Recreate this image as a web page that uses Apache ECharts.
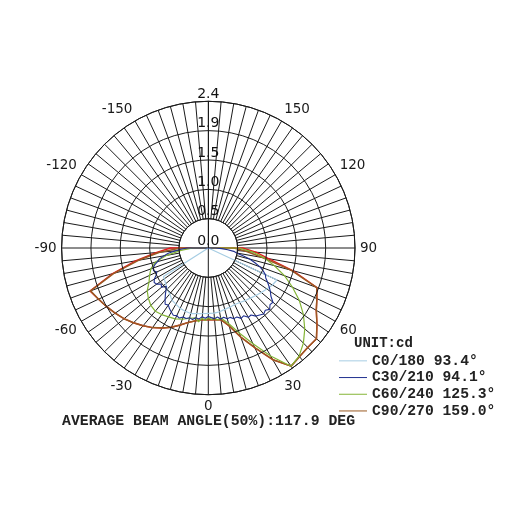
<!DOCTYPE html>
<html>
<head>
<meta charset="utf-8">
<script src="https://cdn.jsdelivr.net/npm/echarts@6/dist/echarts.min.js"></script>
<style>
html,body{margin:0;padding:0;background:#fff;}
#c{width:515px;height:515px;}
</style>
</head>
<body>
<div id="c"></div>
<script>
// ---------- DATA ----------
const SERIES_NAMES = ['C0/180 93.4°', 'C30/210 94.1°', 'C60/240 125.3°', 'C90/270 159.0°'];
const RING_LABELS = ['0.0', '0.5', '1.0', '1.5', '1.9', '2.4'];
const RADIUS_MAX = 2.4;
const RING_STEP = 0.48;
const ANGLE_LABEL_STEP = 30;
const UNIT_TEXT = 'UNIT:cd';
const FOOT_TEXT = 'AVERAGE BEAM ANGLE(50%):117.9 DEG';

// C0/180 (light blue)
const c0Angles = [-60, -57.5, -55, -50, -45, -40, -35, -30, -25, -20, -15, -10, -5, 0, 5, 10, 15, 20, 25, 30, 35, 40, 45, 50, 55, 60, 65, 67];
const c0Values = [0, 0.87, 0.88, 0.91, 0.95, 0.98, 1.04, 1.06, 1.09, 1.10, 1.11, 1.09, 1.08, 1.07, 1.07, 1.06, 1.04, 1.03, 1.02, 1.03, 1.05, 1.07, 1.10, 1.13, 1.17, 1.21, 1.24, 0];

// C30/210 (dark blue)
const c30Angles = [-92.5, -90, -87.5, -85, -82.5, -80, -77.5, -75, -72.5, -70, -67.5, -65, -62.5, -60, -57.5, -55, -52.5, -50, -47.5, -45, -42.5, -40, -37.5, -35, -32.5, -30, -27.5, -25, -22.5, -20, -17.5, -15, -12.5, -10, -7.5, -5, -2.5, 0, 2.5, 5, 7.5, 10, 12.5, 15, 17.5, 20, 22.5, 25, 27.5, 30, 32.5, 35, 37.5, 40, 42.5, 45, 47.5, 50, 52.5, 55, 57.5, 60, 62.5, 65, 67.5, 70, 72.5, 75, 77.5, 80, 82.5, 85, 87.5, 90, 92.5];
const c30Values = [0, 0.35, 0.45, 0.55, 0.66, 0.74, 0.82, 0.86, 0.92, 0.96, 0.97, 0.93, 0.96, 1.02, 1.05, 1.03, 0.97, 1.00, 0.93, 0.98, 1.04, 1.10, 1.16, 1.14, 1.18, 1.21, 1.24, 1.22, 1.24, 1.20, 1.21, 1.18, 1.20, 1.16, 1.17, 1.13, 1.15, 1.12, 1.14, 1.16, 1.14, 1.18, 1.16, 1.20, 1.19, 1.23, 1.22, 1.27, 1.25, 1.31, 1.30, 1.36, 1.38, 1.41, 1.38, 1.42, 1.37, 1.38, 1.29, 1.24, 1.18, 1.12, 1.06, 1.03, 0.97, 0.90, 0.80, 0.70, 0.58, 0.47, 0.42, 0.32, 0.22, 0.12, 0];

// C60/240 (green)
const c60Angles = [-93, -90, -85, -80, -75, -70, -65, -60, -55, -50, -45, -40, -35, -30, -25, -20, -15, -10, -7.5, -5, -2.5, 0, 2.5, 5, 7.5, 10, 15, 20, 25, 30, 35, 40, 45, 50, 55, 60, 65, 70, 75, 80, 85, 90, 94];
const c60Values = [0, 0.25, 0.45, 0.69, 0.90, 1.00, 1.06, 1.12, 1.22, 1.28, 1.33, 1.35, 1.33, 1.30, 1.28, 1.24, 1.19, 1.16, 1.22, 1.15, 1.19, 1.14, 1.17, 1.15, 1.19, 1.16, 1.28, 1.48, 1.73, 2.04, 2.36, 2.31, 2.20, 2.06, 1.90, 1.72, 1.52, 1.33, 1.12, 0.93, 0.72, 0.50, 0];

// C90/270 (brown)
const c90Angles = [-92, -90, -85, -80, -75, -70, -65, -60, -55, -50, -45, -40, -35, -30, -25, -20, -15, -10, -5, 0, 5, 10, 15, 20, 25, 30, 35, 40, 45, 50, 55, 60, 65, 70, 75, 80, 85, 90, 92];
const c90Values = [0, 0.45, 0.80, 1.16, 1.60, 2.05, 1.98, 1.92, 1.86, 1.80, 1.73, 1.66, 1.59, 1.51, 1.43, 1.34, 1.26, 1.21, 1.18, 1.17, 1.18, 1.19, 1.32, 1.55, 1.80, 2.11, 2.36, 2.32, 2.30, 2.31, 2.17, 2.04, 1.96, 1.89, 1.40, 0.90, 0.62, 0.42, 0];

// extra red curve (upper envelope)
const redAngles = [-96, -90, -85, -80, -75, -70, -65, -60, -55, -50, -45, -40, -35, -30, -25, -20, -15, -10, -5, 0, 5, 10, 15, 20, 25, 30, 35, 40, 45, 50, 55, 60, 65, 70, 75, 80, 85, 90, 96];
const redValues = [0, 0.62, 0.86, 1.20, 1.62, 2.06, 1.98, 1.92, 1.86, 1.80, 1.73, 1.66, 1.59, 1.51, 1.43, 1.34, 1.26, 1.21, 1.18, 1.17, 1.18, 1.19, 1.32, 1.55, 1.80, 2.11, 2.36, 2.32, 2.30, 2.31, 2.17, 2.04, 1.96, 1.89, 1.43, 1.00, 0.78, 0.56, 0];

// ---------- CHART ----------
const pairs = (ang, val) => ang.map((a, i) => [val[i], a]);
const MONO = 'Liberation Mono';
const SANS = 'DejaVu Sans';
const GRID = '#1a1a1a';

const chart = echarts.init(document.getElementById('c'), null, {renderer: 'canvas'});

function lineSeries(name, ang, val, color, width, z) {
  return {
    name: name, type: 'line', coordinateSystem: 'polar',
    data: pairs(ang, val), showSymbol: false, symbol: 'none', smooth: false,
    lineStyle: {color: color, width: width}, itemStyle: {color: color},
    z: z, silent: true, animation: false
  };
}

chart.setOption({
  animation: false,
  backgroundColor: '#fff',
  polar: {center: [208.3, 248], radius: 146.7},
  angleAxis: {
    type: 'value', min: -180, max: 180, interval: 5,
    startAngle: 90, clockwise: false,
    axisLine: {show: true, lineStyle: {color: GRID, width: 1}},
    axisTick: {show: false},
    splitLine: {show: true, lineStyle: {color: GRID, width: 1}},
    axisLabel: {
      margin: 5, color: '#1a1a1a', fontFamily: SANS, fontSize: 13.5,
      formatter: v => (Math.abs(v) < 180 && Math.round(v) % ANGLE_LABEL_STEP === 0) ? String(Math.round(v)) : ''
    }
  },
  radiusAxis: {
    type: 'value', min: 0, max: RADIUS_MAX, interval: RING_STEP, z: 5,
    axisLine: {show: true, lineStyle: {color: GRID, width: 1}},
    axisTick: {show: false},
    splitLine: {show: true, lineStyle: {color: GRID, width: 1}},
    axisLabel: {
      margin: 0, align: 'center', verticalAlign: 'bottom',
      color: '#111', fontFamily: SANS, fontSize: 14,
      formatter: v => RING_LABELS[Math.round(v / RING_STEP)] || ''
    }
  },
  legend: {
    data: SERIES_NAMES, orient: 'vertical', left: 334, top: 348,
    itemWidth: 28, itemHeight: 8, itemGap: 1,
    icon: 'path://M0,3.5L28,3.5L28,4.5L0,4.5Z',
    textStyle: {fontFamily: MONO, fontWeight: 'bold', fontSize: 14.7, color: '#222', lineHeight: 15.7},
    selectedMode: false
  },
  title: [
    {text: UNIT_TEXT, left: 349, top: 331, textStyle: {fontFamily: MONO, fontWeight: 'bold', fontSize: 14, color: '#222'}},
    {text: FOOT_TEXT, left: 57, top: 409, textStyle: {fontFamily: MONO, fontWeight: 'bold', fontSize: 14.8, color: '#222'}}
  ],
  series: [
    {
      type: 'custom', coordinateSystem: 'polar', z: 1, silent: true, data: [[0, 0]],
      renderItem: function (params, api) {
        const c = api.coord([0, 0]);
        const p = api.coord([RING_STEP, 0]);
        const r = Math.hypot(p[0] - c[0], p[1] - c[1]);
        return {type: 'group', children: [
          {type: 'circle', shape: {cx: c[0], cy: c[1], r: r}, style: {fill: '#fff', stroke: GRID, lineWidth: 1}},
          {type: 'line', shape: {x1: c[0], y1: c[1] - r, x2: c[0], y2: c[1] + r}, style: {stroke: GRID, lineWidth: 1}}
        ]};
      }
    },
    lineSeries('red', redAngles, redValues, '#e5191e', 1.4, 2),
    lineSeries(SERIES_NAMES[3], c90Angles, c90Values, '#9a5a22', 1.5, 3),
    lineSeries(SERIES_NAMES[2], c60Angles, c60Values, '#84b536', 1.2, 4),
    lineSeries(SERIES_NAMES[0], c0Angles, c0Values, '#a6cde3', 1.2, 4),
    lineSeries(SERIES_NAMES[1], c30Angles, c30Values, '#1f2f8f', 1.1, 4)
  ]
});
</script>
</body>
</html>
